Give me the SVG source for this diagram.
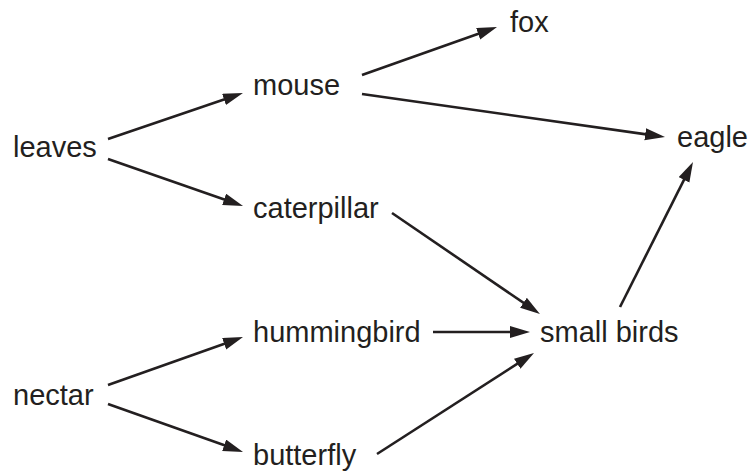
<svg xmlns="http://www.w3.org/2000/svg" width="749" height="473" viewBox="0 0 749 473">
<style>
text{font-family:"Liberation Sans",Arial,sans-serif;font-size:29px;fill:#231f20}
.c line{stroke:#231f20;stroke-width:2.6;fill:none;marker-end:url(#ah)}
</style>
<defs>
<marker id="ah" markerUnits="userSpaceOnUse" markerWidth="22" markerHeight="14" refX="10" refY="6" orient="auto" viewBox="0 0 22 14">
<path d="M0,0 L20,6 L0,12 Z" fill="#231f20"/>
</marker>
</defs>
<rect width="749" height="473" fill="#fff"/>
<g class="c" id="connectors">
<line x1="108" y1="139" x2="233.5" y2="96.2"/>
<line x1="108" y1="159" x2="233.6" y2="202.7"/>
<line x1="362" y1="75" x2="487.6" y2="30.4"/>
<line x1="362" y1="94" x2="655.1" y2="135.6"/>
<line x1="392" y1="213" x2="531.7" y2="308.4"/>
<line x1="433" y1="332" x2="520" y2="332"/>
<line x1="377" y1="454" x2="525.6" y2="358.4"/>
<line x1="620" y1="307" x2="688.5" y2="170.9"/>
<line x1="108" y1="385" x2="233.6" y2="340.4"/>
<line x1="108" y1="404" x2="233.6" y2="448.6"/>
</g>
<g id="leaves"><text x="13" y="157">leaves</text></g>
<g id="mouse"><text x="253" y="95">mouse</text></g>
<g id="caterpillar"><text x="253" y="218">caterpillar</text></g>
<g id="fox"><text x="510" y="32">fox</text></g>
<g id="eagle"><text x="677" y="147">eagle</text></g>
<g id="nectar"><text x="13" y="405">nectar</text></g>
<g id="hummingbird"><text x="253" y="342">hummingbird</text></g>
<g id="butterfly"><text x="253" y="465">butterfly</text></g>
<g id="small-birds"><text x="540" y="342">small birds</text></g>
</svg>
